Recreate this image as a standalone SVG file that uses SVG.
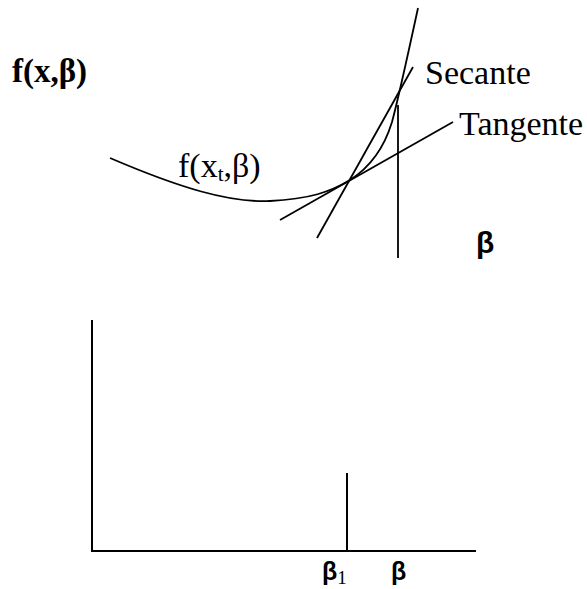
<svg xmlns="http://www.w3.org/2000/svg" width="587" height="589" viewBox="0 0 587 589">
<style>
.ln{fill:none;stroke:#000;stroke-width:1.8;stroke-linecap:butt}
.ax{fill:none;stroke:#000;stroke-width:2}
</style>
<rect width="587" height="589" fill="#fff"/>
<g id="top-plot">
  <text id="ylabel" font-family="Liberation Serif, serif" x="12" y="82" font-size="33" font-weight="bold">f(x,β)</text>
  <path id="curve" class="ln" d="M110,158 C180,188 230,203 270,201 C310,199 330,192 350,180 C372,166 385,145 392,122 C398,100 410,45 418,8"/>
  <line id="tangent" class="ln" x1="280" y1="220" x2="453" y2="122"/>
  <line id="secant" class="ln" x1="317" y1="238" x2="413" y2="67"/>
  <line id="vert" class="ln" x1="398" y1="105" x2="398" y2="258"/>
  <text font-family="Liberation Serif, serif" x="178" y="177" font-size="34">f(x<tspan font-size="21" dy="4">t</tspan><tspan dy="-4">,β)</tspan></text>
  <text font-family="Liberation Serif, serif" x="425" y="84" font-size="34">Secante</text>
  <text font-family="Liberation Serif, serif" x="459" y="135" font-size="34">Tangente</text>
  <text font-family="Liberation Sans, sans-serif" font-weight="bold" x="476" y="253" font-size="30">β</text>
</g>
<g id="bottom-plot">
  <line class="ax" x1="92" y1="320" x2="92" y2="552"/>
  <line class="ax" x1="91" y1="551" x2="476" y2="551"/>
  <line class="ax" x1="347" y1="473" x2="347" y2="551"/>
  <text font-family="Liberation Sans, sans-serif" font-weight="bold" x="322" y="580" font-size="25">β<tspan font-family="Liberation Serif, serif" font-weight="normal" font-size="19" dy="4">1</tspan></text>
  <text font-family="Liberation Sans, sans-serif" font-weight="bold" x="391" y="580" font-size="25">β</text>
</g>
</svg>
